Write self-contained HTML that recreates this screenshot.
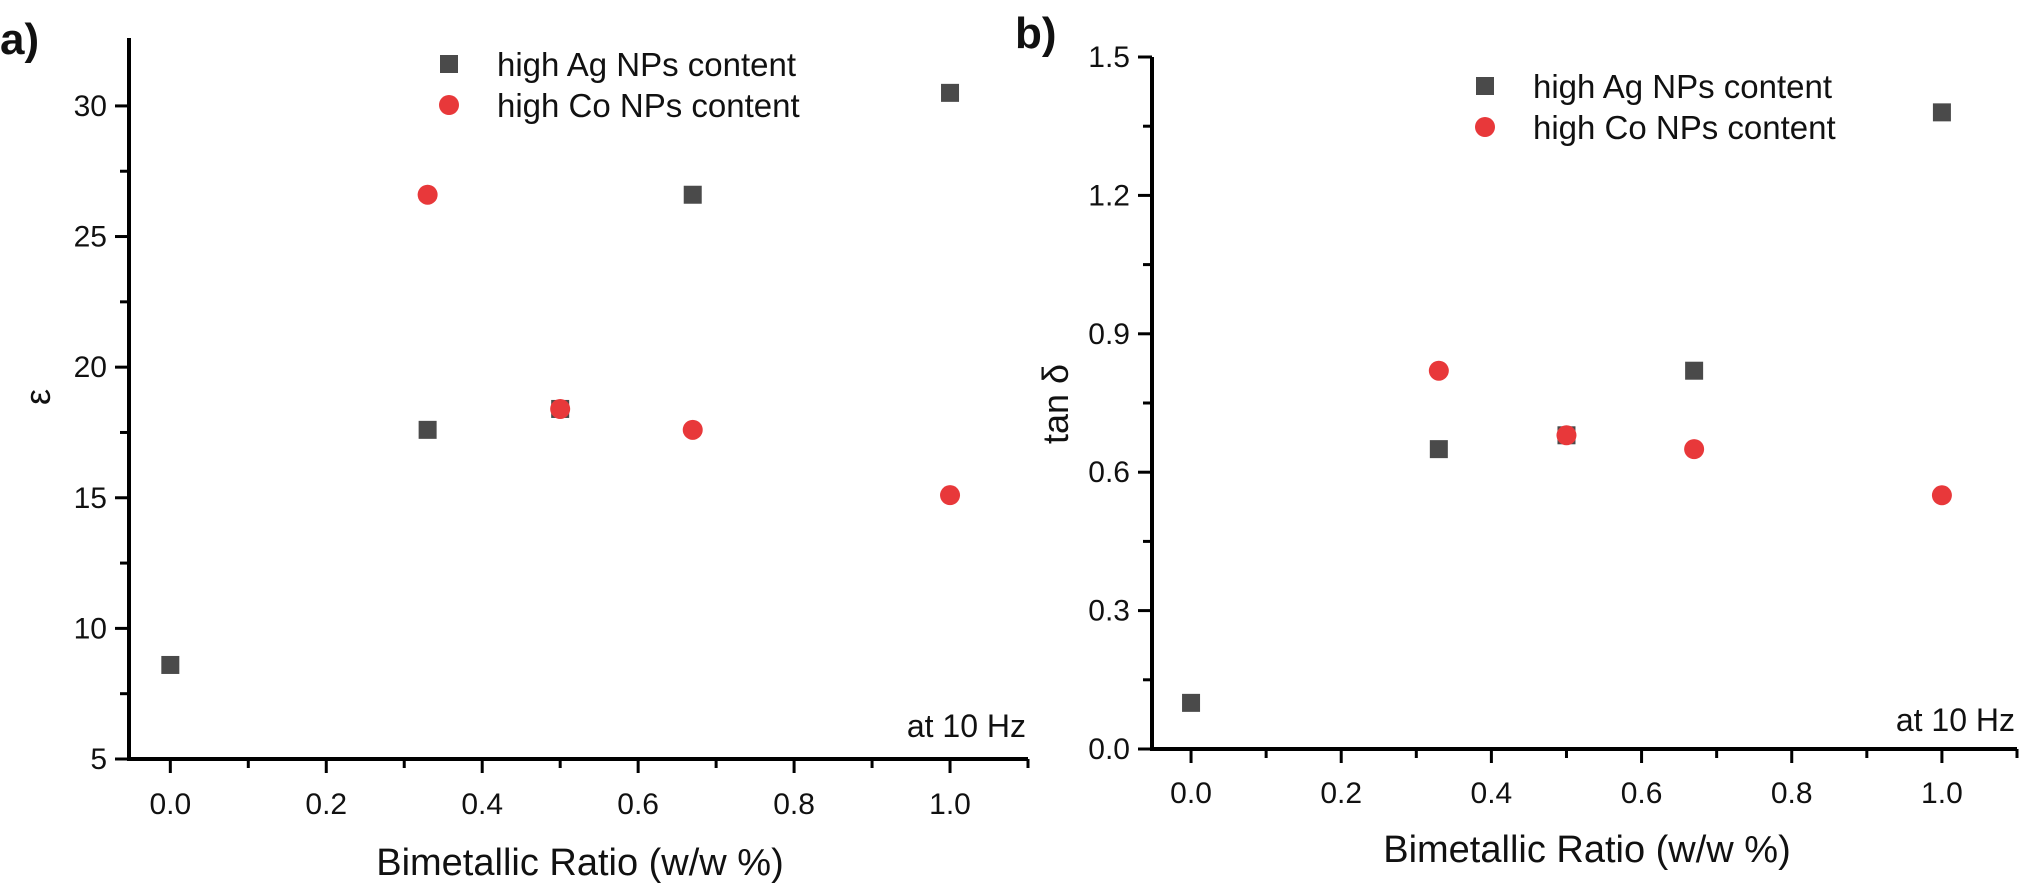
<!DOCTYPE html>
<html><head><meta charset="utf-8"><style>
body{margin:0;background:#fff}
svg text{font-family:"Liberation Sans",sans-serif;fill:#111}
</style></head><body>
<svg id="c" width="2023" height="890" xmlns="http://www.w3.org/2000/svg"></svg>
<script>
const xTicks=[0.0,0.2,0.4,0.6,0.8,1.0];
const aYTicks=[5,10,15,20,25,30];
const bYTicks=[0.0,0.3,0.6,0.9,1.2,1.5];
const aAgX=[0,0.33,0.5,0.67,1];
const aAgY=[8.6,17.6,18.4,26.6,30.5];
const aCoX=[0.33,0.5,0.67,1];
const aCoY=[26.6,18.4,17.6,15.1];
const bAgX=[0,0.33,0.5,0.67,1];
const bAgY=[0.10,0.65,0.68,0.82,1.38];
const bCoX=[0.33,0.5,0.67,1];
const bCoY=[0.82,0.68,0.65,0.55];
const NS="http://www.w3.org/2000/svg";
const svg=document.getElementById('c');
function mk(t,attrs,parent){const e=document.createElementNS(NS,t);for(const k in attrs)e.setAttribute(k,attrs[k]);(parent||svg).appendChild(e);return e;}
function panel(cfg){
  const g=mk('g',{});
  
  
  const sx=v=>cfg.x0+(v-cfg.xmin)/(cfg.xmax-cfg.xmin)*(cfg.x1-cfg.x0);
  const sy=v=>cfg.y0-(v-cfg.ymin)/(cfg.ymax-cfg.ymin)*(cfg.y0-cfg.y1);
  const ax=mk('line',{x1:cfg.x0,y1:cfg.y0,x2:cfg.x1,y2:cfg.y0,stroke:'#000','stroke-width':4},g);
  
  const ay=mk('line',{x1:cfg.x0,y1:cfg.y0+2,x2:cfg.x0,y2:cfg.y1,stroke:'#000','stroke-width':4},g);
  
  for(let i=0;i<=11;i++){const v=i/10;const x=sx(v);const maj=i%2==0;
    mk('line',{x1:x,y1:cfg.y0,x2:x,y2:cfg.y0+(maj?14:9),stroke:'#000','stroke-width':3},g);}
  xTicks.forEach(v=>{const t=mk('text',{x:sx(v),y:cfg.xly+1,'font-size':30,'text-anchor':'middle'},g);t.textContent=v.toFixed(1);
    });
  const yt=cfg.yTicks;
  for(let i=0;i<yt.length;i++){const y=sy(yt[i]);
    mk('line',{x1:cfg.x0,y1:y,x2:cfg.x0-14,y2:y,stroke:'#000','stroke-width':3},g);
    if(i<yt.length-1){const ym=sy((yt[i]+yt[i+1])/2);mk('line',{x1:cfg.x0,y1:ym,x2:cfg.x0-9,y2:ym,stroke:'#000','stroke-width':3},g);}
    const t=mk('text',{x:cfg.x0-22,y:y+10,'font-size':30,'text-anchor':'end'},g);t.textContent=cfg.fmt(yt[i]);
    }
  const xt=mk('text',{x:cfg.xtx,y:cfg.xty+4,'font-size':38,'text-anchor':'middle'},g);xt.textContent='Bimetallic Ratio (w/w %)';
  
  const ytt=mk('text',{x:cfg.ytx,y:cfg.yty,'font-size':36,'text-anchor':'middle',transform:`rotate(-90 ${cfg.ytx} ${cfg.yty})`},g);ytt.textContent=cfg.ytitle;
  
  const lab=mk('text',{x:cfg.labx,y:cfg.laby,'font-size':44,'font-weight':'bold'},g);lab.textContent=cfg.id+')';
  
  const hz=mk('text',{x:cfg.x1-2,y:cfg.hzy+4,'font-size':32,'text-anchor':'end'},g);hz.textContent='at 10 Hz';
  
  cfg.agX.forEach((v,i)=>{const r=mk('rect',{x:sx(v)-9,y:sy(cfg.agY[i])-9,width:18,height:18,fill:'#4a4a4a'},g);
    });
  cfg.coX.forEach((v,i)=>{const c=mk('circle',{cx:sx(v),cy:sy(cfg.coY[i]),r:10,fill:'#e8383a'},g);
    });
  const l1=mk('rect',{x:cfg.lgx-9,y:cfg.lgy-9,width:18,height:18,fill:'#4a4a4a'},g);
  
  const t1=mk('text',{x:cfg.lgx+48,y:cfg.lgy+12,'font-size':33},g);t1.textContent='high Ag NPs content';
  
  const l2=mk('circle',{cx:cfg.lgx,cy:cfg.lgy+41,r:10,fill:'#e8383a'},g);
  
  const t2=mk('text',{x:cfg.lgx+48,y:cfg.lgy+53,'font-size':33},g);t2.textContent='high Co NPs content';
  
}
panel({id:'a',x0:129,x1:1028,xmin:-0.053,xmax:1.1,y0:759,y1:38,ymin:5,ymax:32.6,yTicks:aYTicks,fmt:v=>String(v),
  agX:aAgX,agY:aAgY,coX:aCoX,coY:aCoY,xly:813,xtx:580,xty:871,ytx:50,yty:397,ytitle:'ε',labx:0,laby:54,hzy:733,lgx:449,lgy:64});
panel({id:'b',x0:1152,x1:2017,xmin:-0.052,xmax:1.1,y0:749,y1:57,ymin:0,ymax:1.5,yTicks:bYTicks,fmt:v=>v.toFixed(1),
  agX:bAgX,agY:bAgY,coX:bCoX,coY:bCoY,xly:802,xtx:1587,xty:858,ytx:1068,yty:404,ytitle:'tan δ',labx:1015,laby:48,hzy:727,lgx:1485,lgy:86});
</script>
</body></html>
